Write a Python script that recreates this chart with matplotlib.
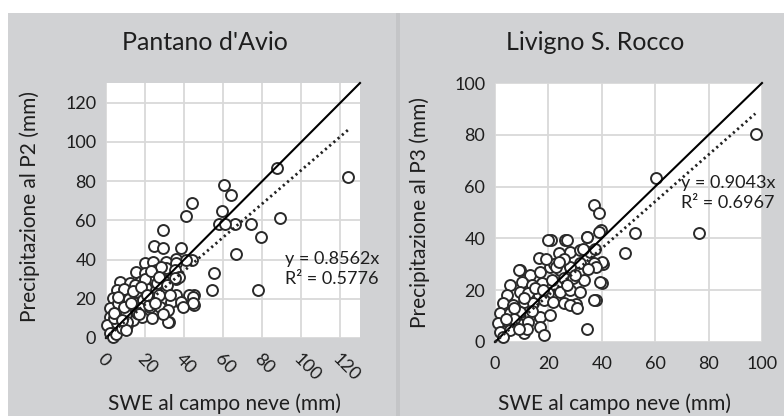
import matplotlib
matplotlib.use("Agg")
import matplotlib.pyplot as plt
from matplotlib.patches import Rectangle

plt.rcParams['font.family'] = ['Lato', 'DejaVu Sans']

# ---------------- data ----------------
titles = ["Pantano d'Avio", "Livigno S. Rocco"]
ylabels = ["Precipitazione al P2 (mm)", "Precipitazione al P3 (mm)"]
xlabel = "SWE al campo neve (mm)"

left_ticks = [0, 20, 40, 60, 80, 100, 120]
right_ticks = [0, 20, 40, 60, 80, 100]
left_lim = 130
right_lim = 100

left_slope = 0.8562
left_r2 = 0.5776
right_slope = 0.9043
right_r2 = 0.6967
left_fit_xmax = 124
right_fit_xmax = 97.5

left_x = [124, 87.5, 89, 79.5, 74, 78, 66, 66.5, 60.5, 64, 59.5, 58, 61, 55.5, 54,
          44, 41, 29, 24.5, 29, 38.5, 36, 44, 41, 45, 45, 40, 37, 32, 36,
          19.8, 24.1, 30.9, 36.0, 15.6, 19.8, 25.8, 30.9, 35.1, 37.6,
          7.1, 12.2, 17.3, 22.4, 29.2, 35.1,
          5.4, 10.5, 15.6, 20.7, 25.8, 30.9, 36.0, 42.7, 44.4,
          3.7, 8.8, 13.9, 19.0, 24.1, 29.2, 33.4, 38.5, 44.4, 39.3,
          2.0, 7.1, 12.2, 17.3, 22.4, 27.5, 31.7,
          2.0, 7.1, 12.2, 18.2, 23.3, 31.7,
          0.3, 5.4, 10.5, 13.9, 2.0, 3.7,
          5, 8, 4, 10, 6, 9, 12, 15, 20, 26, 28, 11, 16, 22, 27,
          14, 18, 23, 27, 31, 9, 13, 17, 21, 25, 6, 10, 4, 8, 33, 29]
left_y = [82, 86.5, 61, 51.5, 58, 24.5, 58, 43, 78, 73, 65, 58, 58, 33, 24.5,
          69, 62, 55, 47, 46, 46, 40.5, 40, 40, 22, 17, 17, 19, 8, 30,
          38.0, 38.9, 38.9, 38.0, 33.7, 32.9, 34.6, 35.5, 34.6, 31.2,
          28.7, 27.8, 28.7, 30.4, 29.5, 30.4,
          24.4, 22.7, 23.6, 25.3, 24.4, 24.4, 21.9, 21.9, 21.0,
          20.2, 19.3, 18.4, 19.3, 20.2, 20.2, 18.4, 18.4, 17.6, 15.9,
          15.1, 15.9, 14.2, 15.1, 15.9, 15.9, 14.2,
          10.8, 11.7, 11.7, 10.8, 10.0, 8.3,
          6.6, 7.5, 6.6, 9.2, 2.4, 0.7,
          2, 5, 10, 12, 18, 25, 20, 27, 30, 28, 36, 8, 13, 17, 22,
          24, 26, 34, 31, 27, 16, 18, 12, 22, 18, 21, 4, 13, 9, 22, 12]

right_x = [97.9, 60.3, 76.3, 52.5, 48.8, 37.1, 39.0, 34.6, 37.7, 40.0, 40.3, 39.6,
           20.8, 26.4, 34.6, 30.2,
           20.0, 26.9, 34.5, 38.8,
           16.3, 23.8, 28.2, 31.95, 35.7, 40.1,
           9.4, 13.2, 16.9, 20.7, 24.4, 28.2, 31.95, 37.0,
           5.6, 10.0, 13.8, 17.5, 21.3, 25.7, 29.4, 33.2, 39.5,
           4.4, 9.4, 12.5, 16.3, 20.0, 24.4, 28.2, 31.95, 37.0,
           3.1, 6.9, 10.7, 14.4, 18.2, 21.9, 25.7, 28.2, 30.7,
           1.9, 5.6, 9.4, 13.2, 16.9, 20.7,
           1.3, 5.0, 8.8, 12.5, 16.9,
           1.9, 5.6, 10.7, 18.2,
           38, 37.5, 33, 26, 22, 7, 3, 12, 14, 8.9,
           15, 19, 23, 27, 11, 7, 18, 24, 30, 35, 4, 9]
right_y = [80.3, 63.2, 42, 42, 34.2, 52.9, 50.0, 4.9, 16.2, 22.7, 30.0, 43.2,
           39.4, 39.4, 40.7, 14.7,
           39.4, 39.4, 40.7, 42.6,
           32.3, 34.2, 34.9, 35.5, 34.9, 31.0,
           27.8, 25.9, 27.1, 29.1, 27.8, 29.1, 30.4, 30.4,
           22.0, 23.3, 22.0, 22.7, 23.9, 24.6, 24.6, 23.9, 23.3,
           18.1, 19.4, 18.8, 18.1, 18.8, 19.4, 20.1, 19.4, 16.2,
           14.9, 14.3, 15.6, 14.9, 16.2, 15.6, 14.9, 14.3, 13.0,
           11.1, 11.1, 11.7, 10.4, 9.8, 10.4,
           7.2, 7.8, 7.2, 7.8, 5.9,
           4.0, 4.6, 3.4, 2.7,
           29, 36, 36, 32, 30, 9, 2, 5, 12, 27.8,
           21, 32, 29, 22, 17, 13, 20, 31, 26, 28, 9, 5]

# ---------------- figure ----------------
W, H = 784, 416
fig = plt.figure(figsize=(W / 100, H / 100), dpi=100)
fig.patch.set_facecolor('white')
bg = '#d1d2d4'
txt = '#1e1e1e'
fig.add_artist(Rectangle((8 / W, 0), (392 - 8) / W, (H - 13) / H,
                         transform=fig.transFigure, facecolor=bg, edgecolor='none', zorder=0))
fig.add_artist(Rectangle((392 / W, 0), (W - 392) / W, (H - 13) / H,
                         transform=fig.transFigure, facecolor=bg, edgecolor='none', zorder=0))
fig.add_artist(Rectangle((396 / W, 0), 4 / W, (H - 13) / H,
                         transform=fig.transFigure, facecolor='#c4c5c7', edgecolor='none', zorder=0))


def panel(rect, xs, ys, lim, ticks, slope, r2, fit_xmax, title, ylabel,
          rot, title_xy, ylab_xy, xlab_xy, eq_xy):
    ax = fig.add_axes(rect)
    ax.set_facecolor('white')
    ax.set_xlim(0, lim)
    ax.set_ylim(0, lim)
    ax.set_xticks(ticks)
    ax.set_yticks(ticks)
    ax.grid(True, color='#d9d9d9', linewidth=1.3, zorder=0)
    ax.set_axisbelow(True)
    for s in ax.spines.values():
        s.set_visible(False)
    ax.tick_params(length=0, labelsize=13, colors=txt, pad=7)
    ax.tick_params(axis='x', pad=10)
    if rot:
        for lab in ax.get_xticklabels():
            lab.set_rotation(-45)
            lab.set_ha('left')
            lab.set_va('top')
            lab.set_rotation_mode('anchor')
        ax.tick_params(axis='x', pad=9)
    ax.scatter(xs, ys, s=62, facecolor='white', edgecolor='#2a2a2a',
               linewidth=1.4, zorder=3, clip_on=False)
    ax.plot([0, lim], [0, lim], color='black', lw=1.5, zorder=4, clip_on=False)
    ax.plot([0, fit_xmax], [0, slope * fit_xmax], color='#222222', lw=2.0,
            linestyle=(0, (0.8, 1.2)), zorder=4, clip_on=False)
    fig.text(title_xy[0] / W, 1 - title_xy[1] / H, title, ha='center', va='center',
             fontsize=18, color=txt)
    fig.text(ylab_xy[0] / W, 1 - ylab_xy[1] / H, ylabel, ha='center', va='center',
             rotation=90, fontsize=15, color=txt)
    fig.text(xlab_xy[0] / W, 1 - xlab_xy[1] / H, xlabel, ha='center', va='center',
             fontsize=15, color=txt)
    fig.text(eq_xy[0] / W, 1 - eq_xy[1] / H, f"y = {slope:.4f}x",
             ha='left', va='center', fontsize=13, color=txt, zorder=6)
    fig.text(eq_xy[0] / W, 1 - (eq_xy[1] + 20) / H, f"R² = {r2:.4f}",
             ha='left', va='center', fontsize=13, color=txt, zorder=6)
    return ax


panel([106 / W, (H - 338) / H, 254 / W, 255 / H], left_x, left_y, left_lim, left_ticks,
      left_slope, left_r2, left_fit_xmax, titles[0], ylabels[0], True,
      (205, 42), (30, 207), (224, 404), (285, 259))
panel([495 / W, (H - 342) / H, 267 / W, 259 / H], right_x, right_y, right_lim, right_ticks,
      right_slope, right_r2, right_fit_xmax, titles[1], ylabels[1], False,
      (595, 42), (420, 213), (614, 404), (681, 183))

fig.savefig('out.png', dpi=100, facecolor=fig.get_facecolor())
